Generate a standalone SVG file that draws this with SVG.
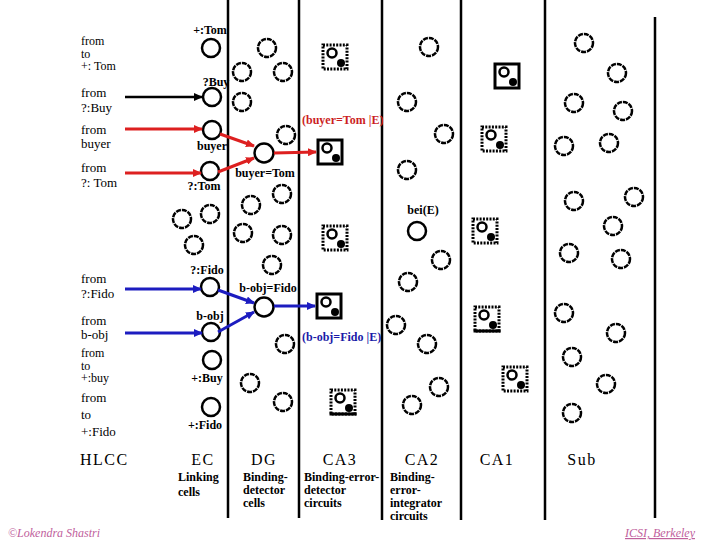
<svg xmlns="http://www.w3.org/2000/svg" width="720" height="540" viewBox="0 0 720 540">
<style>
.bg{fill:#fff}
.sep{stroke:#000;stroke-width:2.5}
.c{fill:none;stroke:#000;stroke-width:2.5}
.cd{fill:none;stroke:#000;stroke-width:2.5;stroke-dasharray:5 1}
.bs{fill:#fff;stroke:#000;stroke-width:3}
.bd{fill:#fff;stroke:#000;stroke-width:3;stroke-dasharray:2 1.3}
.ic{fill:none;stroke:#000;stroke-width:2.5}
.dot{fill:#000}
text{font-family:"Liberation Serif","Times New Roman","DejaVu Serif",serif}
.lt{font-size:13px;fill:#000}
.ls{font-size:12px;fill:#000}
.nl{font-size:12px;font-weight:bold;fill:#000}
.rl{font-size:12px;font-weight:bold;fill:#cc1f1f}
.bl{font-size:12px;font-weight:bold;fill:#1a1aa8}
.hd{font-size:16px;fill:#000;letter-spacing:1.5px}
.sl{font-size:12px;font-weight:bold;fill:#000}
.ft{font-size:12px;font-style:italic;fill:#c0609c}
.ak{stroke:#000;stroke-width:2.5;fill:none}
.ar{stroke:#dd2020;stroke-width:3;fill:none}
.ab{stroke:#1c1cc0;stroke-width:3;fill:none}
</style>
<defs>
<marker id="mk" markerUnits="userSpaceOnUse" markerWidth="9" markerHeight="8" refX="8" refY="4" orient="auto"><path d="M0,0 L9,4 L0,8 z" fill="#000"/></marker>
<marker id="mr" markerUnits="userSpaceOnUse" markerWidth="9" markerHeight="8" refX="8" refY="4" orient="auto"><path d="M0,0 L9,4 L0,8 z" fill="#dd2020"/></marker>
<marker id="mb" markerUnits="userSpaceOnUse" markerWidth="9" markerHeight="8" refX="8" refY="4" orient="auto"><path d="M0,0 L9,4 L0,8 z" fill="#1c1cc0"/></marker>
<g id="boxD"><rect x="0" y="0" width="24" height="24" class="bd"/><circle cx="9" cy="8" r="4.5" class="ic"/><circle cx="18" cy="18" r="4" class="dot"/></g>
<g id="boxS"><rect x="0" y="0" width="24" height="24" class="bs"/><circle cx="9" cy="8" r="4.5" class="ic"/><circle cx="18" cy="18" r="4" class="dot"/></g>
<g id="boxB"><rect x="0" y="0" width="24" height="24" class="bd"/><line x1="-1.5" y1="24" x2="25.5" y2="24" stroke="#000" stroke-width="3"/><circle cx="9" cy="8" r="4.5" class="ic"/><circle cx="18" cy="18" r="4" class="dot"/></g>
</defs>
<rect class="bg" x="0" y="0" width="720" height="540"/>

<g id="separators">
<line class="sep" x1="228" y1="0" x2="228" y2="518"/>
<line class="sep" x1="299" y1="0" x2="299" y2="518"/>
<line class="sep" x1="382" y1="0" x2="382" y2="520"/>
<line class="sep" x1="461" y1="0" x2="461" y2="520"/>
<line class="sep" x1="545" y1="0" x2="545" y2="520"/>
<line class="sep" x1="655" y1="17" x2="655" y2="518"/>
</g>

<g id="left-labels">
<text class="ls" x="81" y="45">from</text>
<text class="ls" x="81" y="57.5">to</text>
<text class="ls" x="81" y="70">+: Tom</text>
<text class="lt" x="81" y="97">from</text>
<text class="lt" x="81" y="112">?:Buy</text>
<text class="lt" x="81" y="134">from</text>
<text class="lt" x="81" y="148">buyer</text>
<text class="lt" x="81" y="172">from</text>
<text class="lt" x="81" y="187">?: Tom</text>
<text class="lt" x="81" y="283">from</text>
<text class="lt" x="81" y="298">?:Fido</text>
<text class="lt" x="81" y="325">from</text>
<text class="lt" x="81" y="339">b-obj</text>
<text class="ls" x="81" y="357">from</text>
<text class="ls" x="81" y="369.5">to</text>
<text class="ls" x="81" y="382">+:buy</text>
<text class="lt" x="81" y="402">from</text>
<text class="lt" x="81" y="419">to</text>
<text class="lt" x="81" y="436">+:Fido</text>
<text class="hd" x="80" y="465">HLCC</text>
</g>

<g id="n-tom"><circle class="c" cx="211" cy="48" r="9"/><text class="nl" x="210" y="34" text-anchor="middle">+:Tom</text></g>
<g id="n-buy"><circle class="c" cx="212" cy="97" r="9"/><text class="nl" x="216" y="86" text-anchor="middle">?Buy</text></g>
<g id="n-buyer"><circle class="c" cx="212" cy="130" r="9"/><text class="nl" x="212" y="150" text-anchor="middle">buyer</text></g>
<g id="n-qtom"><circle class="c" cx="210" cy="171" r="9"/><text class="nl" x="204" y="190" text-anchor="middle">?:Tom</text></g>
<g id="n-ec1"><circle class="cd" cx="182" cy="219" r="9"/></g>
<g id="n-ec2"><circle class="cd" cx="210" cy="214" r="9"/></g>
<g id="n-ec3"><circle class="cd" cx="194" cy="245" r="9"/></g>
<g id="n-qfido"><circle class="c" cx="210" cy="287" r="9"/><text class="nl" x="207" y="274" text-anchor="middle">?:Fido</text></g>
<g id="n-bobj"><circle class="c" cx="211" cy="332" r="9"/><text class="nl" x="210" y="320" text-anchor="middle">b-obj</text></g>
<g id="n-pbuy"><circle class="c" cx="212" cy="360" r="9"/><text class="nl" x="207" y="382" text-anchor="middle">+:Buy</text></g>
<g id="n-pfido"><circle class="c" cx="211" cy="407" r="9"/><text class="nl" x="205" y="429" text-anchor="middle">+:Fido</text></g>

<g id="n-buyertom"><circle class="c" cx="264" cy="153" r="9.5"/><text class="nl" x="265" y="177" text-anchor="middle">buyer=Tom</text></g>
<g id="n-bobjfido"><circle class="c" cx="264" cy="307" r="9.5"/><text class="nl" x="268" y="292" text-anchor="middle">b-obj=Fido</text></g>
<g id="dg-cells">
<circle class="cd" cx="267" cy="48" r="9"/>
<circle class="cd" cx="242" cy="72" r="9"/>
<circle class="cd" cx="283" cy="72" r="9"/>
<circle class="cd" cx="242" cy="102" r="9"/>
<circle class="cd" cx="286" cy="135" r="9"/>
<circle class="cd" cx="282" cy="194" r="9"/>
<circle class="cd" cx="251" cy="205" r="9"/>
<circle class="cd" cx="243" cy="233" r="9"/>
<circle class="cd" cx="282" cy="235" r="9"/>
<circle class="cd" cx="272" cy="265" r="9"/>
<circle class="cd" cx="285" cy="344" r="9"/>
<circle class="cd" cx="250" cy="383" r="9"/>
<circle class="cd" cx="283" cy="402" r="9"/>
</g>

<g id="b-ca3-1"><use href="#boxD" x="323" y="45"/></g>
<g id="b-buyertom"><use href="#boxS" x="318" y="140"/><text class="rl" x="302" y="124">(buyer=Tom |E)</text></g>
<g id="b-ca3-3"><use href="#boxD" x="323" y="226"/></g>
<g id="b-bobjfido"><use href="#boxS" x="317" y="294"/><text class="bl" x="302" y="341">(b-obj=Fido |E)</text></g>
<g id="b-ca3-5"><use href="#boxB" x="331" y="390"/></g>

<g id="ca2-cells">
<circle class="cd" cx="429" cy="47" r="9"/>
<circle class="cd" cx="407" cy="102" r="9"/>
<circle class="cd" cx="444" cy="134" r="9"/>
<circle class="cd" cx="407" cy="170" r="9"/>
<circle class="cd" cx="441" cy="260" r="9"/>
<circle class="cd" cx="408" cy="282" r="9"/>
<circle class="cd" cx="396" cy="325" r="9"/>
<circle class="cd" cx="427" cy="344" r="9"/>
<circle class="cd" cx="439" cy="387" r="9"/>
<circle class="cd" cx="412" cy="405" r="9"/>
</g>
<g id="n-bei"><circle class="c" cx="417" cy="231" r="9"/><text class="nl" x="423" y="214" text-anchor="middle">bei(E)</text></g>

<g id="ca1-boxes">
<use href="#boxS" x="495" y="64"/>
<use href="#boxD" x="482" y="127"/>
<use href="#boxD" x="473" y="219"/>
<use href="#boxB" x="475" y="307"/>
<use href="#boxD" x="503" y="367"/>
</g>

<g id="sub-cells">
<circle class="cd" cx="584" cy="43" r="9"/>
<circle class="cd" cx="617" cy="73" r="9"/>
<circle class="cd" cx="574" cy="103" r="9"/>
<circle class="cd" cx="623" cy="111" r="9"/>
<circle class="cd" cx="564" cy="146" r="9"/>
<circle class="cd" cx="609" cy="143" r="9"/>
<circle class="cd" cx="574" cy="201" r="9"/>
<circle class="cd" cx="634" cy="197" r="9"/>
<circle class="cd" cx="613" cy="226" r="9"/>
<circle class="cd" cx="569" cy="253" r="9"/>
<circle class="cd" cx="621" cy="259" r="9"/>
<circle class="cd" cx="564" cy="313" r="9"/>
<circle class="cd" cx="616" cy="333" r="9"/>
<circle class="cd" cx="572" cy="357" r="9"/>
<circle class="cd" cx="606" cy="384" r="9"/>
<circle class="cd" cx="572" cy="413" r="9"/>
</g>

<g id="connectors">
<line class="ak" x1="125" y1="97" x2="202" y2="97" marker-end="url(#mk)"/>
<line class="ar" x1="125" y1="129" x2="202" y2="129" marker-end="url(#mr)"/>
<line class="ar" x1="125" y1="173" x2="201" y2="173" marker-end="url(#mr)"/>
<line class="ar" x1="220" y1="134" x2="254" y2="146" marker-end="url(#mr)"/>
<line class="ar" x1="218" y1="172" x2="254" y2="158" marker-end="url(#mr)"/>
<line class="ar" x1="274" y1="153" x2="316" y2="152" marker-end="url(#mr)"/>
<line class="ab" x1="125" y1="289" x2="201" y2="289" marker-end="url(#mb)"/>
<line class="ab" x1="125" y1="333" x2="202" y2="333" marker-end="url(#mb)"/>
<line class="ab" x1="218" y1="290" x2="254" y2="303" marker-end="url(#mb)"/>
<line class="ab" x1="218" y1="332" x2="254" y2="312" marker-end="url(#mb)"/>
<line class="ab" x1="274" y1="306" x2="315" y2="306" marker-end="url(#mb)"/>
</g>

<g id="region-labels">
<text class="hd" x="203" y="465" text-anchor="middle">EC</text>
<text class="hd" x="264" y="465" text-anchor="middle">DG</text>
<text class="hd" x="340" y="465" text-anchor="middle">CA3</text>
<text class="hd" x="422" y="465" text-anchor="middle">CA2</text>
<text class="hd" x="497" y="465" text-anchor="middle">CA1</text>
<text class="hd" x="582" y="465" text-anchor="middle">Sub</text>
<text class="sl" x="178" y="481">Linking</text>
<text class="sl" x="178" y="496">cells</text>
<text class="sl" x="243" y="481">Binding-</text>
<text class="sl" x="243" y="494">detector</text>
<text class="sl" x="243" y="507">cells</text>
<text class="sl" x="304" y="481">Binding-error-</text>
<text class="sl" x="304" y="494">detector</text>
<text class="sl" x="304" y="507">circuits</text>
<text class="sl" x="390" y="481">Binding-</text>
<text class="sl" x="390" y="494">error-</text>
<text class="sl" x="390" y="507">integrator</text>
<text class="sl" x="390" y="520">circuits</text>
</g>

<g id="footer">
<text class="ft" x="8" y="537">©Lokendra Shastri</text>
<text class="ft" x="625" y="537" text-decoration="underline">ICSI, Berkeley</text>
</g>
</svg>
